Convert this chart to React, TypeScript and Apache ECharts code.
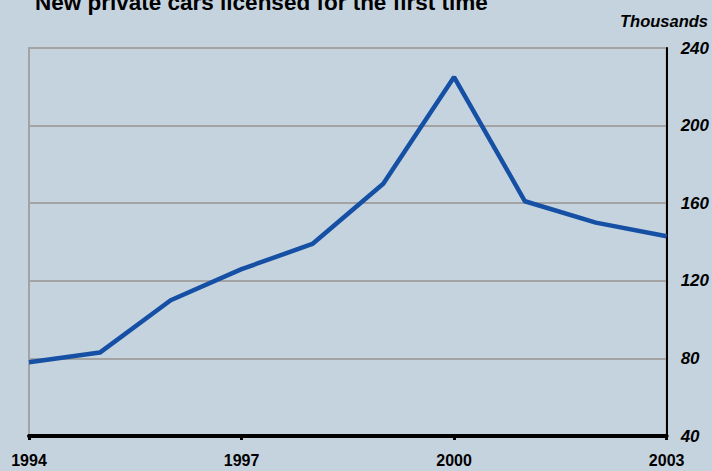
import React, { useEffect, useRef } from "react";
import * as echarts from "echarts";

const years = ["1994", "1995", "1996", "1997", "1998", "1999", "2000", "2001", "2002", "2003"];
const cars = [78, 83, 110, 126, 139, 170, 225, 161, 150, 143];
const yTicks = [40, 80, 120, 160, 200, 240];
const titleText = "New private cars licensed for the first time";
const unitText = "Thousands";

export default function App() {
  const ref = useRef<HTMLDivElement>(null);
  useEffect(() => {
    if (!ref.current) return;
    const chart = echarts.init(ref.current, undefined, { renderer: "svg" });
    const font = "'Liberation Sans', Arial, sans-serif";
    chart.setOption({
      animation: false,
      backgroundColor: "#c5d3df",
      grid: {
        left: 29,
        right: 43,
        top: 48,
        bottom: 35,
        show: true,
        borderColor: "#a3a3a3",
        borderWidth: 2,
        backgroundColor: "transparent",
      },
      graphic: [
        {
          type: "text",
          left: 35,
          top: -9,
          style: {
            text: titleText,
            font: `bold 22.5px ${font}`,
            fill: "#000",
          },
        },
        {
          type: "text",
          right: 4,
          top: 12,
          style: {
            text: unitText,
            font: `italic bold 16.5px ${font}`,
            fill: "#000",
          },
        },
      ],
      xAxis: {
        type: "category",
        data: years,
        boundaryGap: false,
        axisLine: { show: true, lineStyle: { color: "#000", width: 4 } },
        axisTick: { show: true, interval: 2, length: 4, lineStyle: { color: "#000", width: 3 } },
        axisLabel: {
          interval: 2,
          margin: 16,
          color: "#000",
          fontWeight: "bold",
          fontSize: 16,
          fontFamily: font,
        },
        splitLine: { show: false },
      },
      yAxis: {
        type: "value",
        position: "right",
        min: yTicks[0],
        max: yTicks[yTicks.length - 1],
        interval: 40,
        axisLine: { show: true, lineStyle: { color: "#000", width: 2 } },
        axisTick: { show: false },
        axisLabel: {
          margin: 14,
          color: "#000",
          fontWeight: "bold",
          fontStyle: "italic",
          fontSize: 17,
          fontFamily: font,
          showMinLabel: true,
        },
        splitLine: { show: true, lineStyle: { color: "#a3a3a3", width: 2 } },
      },
      series: [
        {
          type: "line",
          data: cars,
          symbol: "none",
          lineStyle: { color: "#1650a5", width: 4.5 },
          z: 3,
        },
      ],
    });
    return () => chart.dispose();
  }, []);
  return <div ref={ref} style={{ position: "fixed", left: 0, top: 0, width: 712, height: 471 }} />;
}
